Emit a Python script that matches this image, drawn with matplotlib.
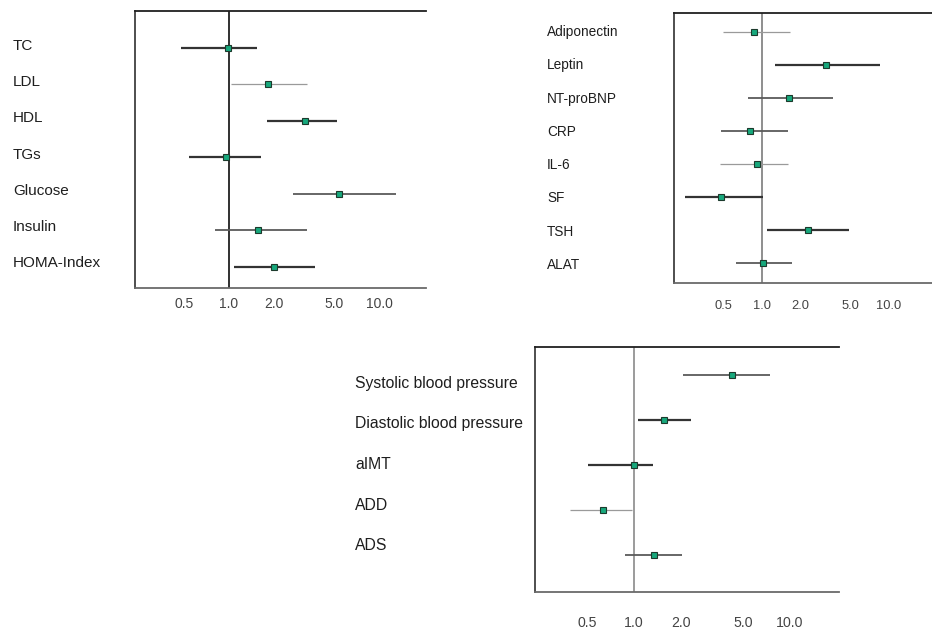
import matplotlib
matplotlib.use("Agg")
import matplotlib.pyplot as plt

plt.rcParams['font.family'] = ['Liberation Sans', 'DejaVu Sans']

# panel 1: lipids / glucose metabolism
lip_names = ["TC", "LDL", "HDL", "TGs", "Glucose", "Insulin", "HOMA-Index"]
lip_or = [0.98, 1.83, 3.21, 0.95, 5.44, 1.55, 2.00]
lip_lo = [0.48, 1.03, 1.80, 0.54, 2.68, 0.81, 1.08]
lip_hi = [1.53, 3.30, 5.27, 1.64, 12.9, 3.30, 3.74]

# panel 2: hormones / inflammation
hor_names = ["Adiponectin", "Leptin", "NT-proBNP", "CRP", "IL-6", "SF", "TSH", "ALAT"]
hor_or = [0.87, 3.17, 1.64, 0.81, 0.91, 0.48, 2.30, 1.02]
hor_lo = [0.49, 1.27, 0.78, 0.48, 0.47, 0.25, 1.10, 0.62]
hor_hi = [1.65, 8.50, 3.63, 1.61, 1.61, 1.02, 4.80, 1.71]

# panel 3: vascular
vas_names = ["Systolic blood pressure", "Diastolic blood pressure", "aIMT", "ADD", "ADS"]
vas_or = [4.29, 1.57, 1.00, 0.63, 1.35]
vas_lo = [2.08, 1.07, 0.51, 0.39, 0.88]
vas_hi = [7.48, 2.31, 1.32, 0.97, 2.05]

tick_vals = [0.5, 1.0, 2.0, 5.0, 10.0]
tick_labs = ["0.5", "1.0", "2.0", "5.0", "10.0"]

# line weight per row: 't' thick, 'm' medium, 'l' light
lip_w = "tlttmmt"
hor_w = "ltmmlttm"
vas_w = "mttlm"
wstyle = {'t': ('#333333', 1.6), 'm': ('#5a5a5a', 1.3), 'l': ('#9a9a9a', 0.9)}

W, H = 932, 630
fig = plt.figure(figsize=(W / 100, H / 100), dpi=100)


def panel(box, names, orr, lo, hi, wts, xlim, ylim, refcol, refw,
          lab_x, lab_y0, lab_step, lab_fs, tick_pad, tick_fs):
    l, t, r, b = box
    ax = fig.add_axes([l / W, 1 - b / H, (r - l) / W, (b - t) / H])
    ax.set_xscale('log')
    ax.set_xlim(*xlim)
    ax.set_ylim(*ylim)
    ax.axvline(1.0, color=refcol, lw=refw, zorder=1)
    for i in range(len(names)):
        c, lw = wstyle[wts[i]]
        ax.plot([lo[i], hi[i]], [i, i], color=c, lw=lw, solid_capstyle='butt', zorder=2)
        ax.plot(orr[i], i, marker='s', ms=3.9, mfc='#17a87c', mec='#1c3a2c',
                mew=0.8, zorder=3)
        fig.text(lab_x / W, 1 - (lab_y0 + i * lab_step) / H, names[i],
                 fontsize=lab_fs, color='#1e1e1e', va='center', ha='left')
    ax.set_xticks(tick_vals)
    ax.set_xticklabels(tick_labs)
    ax.minorticks_off()
    ax.set_yticks([])
    ax.tick_params(axis='x', length=0, pad=tick_pad, labelsize=tick_fs, labelcolor='#444444')
    ax.spines['right'].set_visible(False)
    ax.spines['top'].set_color('#202020')
    ax.spines['top'].set_linewidth(1.3)
    ax.spines['left'].set_color('#404040')
    ax.spines['left'].set_linewidth(1.3)
    ax.spines['bottom'].set_color('#6a6a6a')
    ax.spines['bottom'].set_linewidth(1.3)
    ax.patch.set_alpha(0)
    return ax


panel((135, 11, 426, 288), lip_names, lip_or, lip_lo, lip_hi, lip_w,
      (0.236, 20.6), (6.58, -1.0), '#202020', 1.3,
      13, 46, 36.2, 11, 6.5, 10)

panel((674, 13, 932, 283), hor_names, hor_or, hor_lo, hor_hi, hor_w,
      (0.203, 21.8), (7.6, -0.58), '#707070', 1.1,
      547, 32, 33.3, 9.8, 12, 9.3)

panel((535, 347, 839, 592), vas_names, vas_or, vas_lo, vas_hi, vas_w,
      (0.232, 20.7), (4.83, -0.635), '#808080', 1.1,
      355, 383.3, 40.6, 11.3, 17, 10.2)

fig.savefig("out.png", dpi=100)
